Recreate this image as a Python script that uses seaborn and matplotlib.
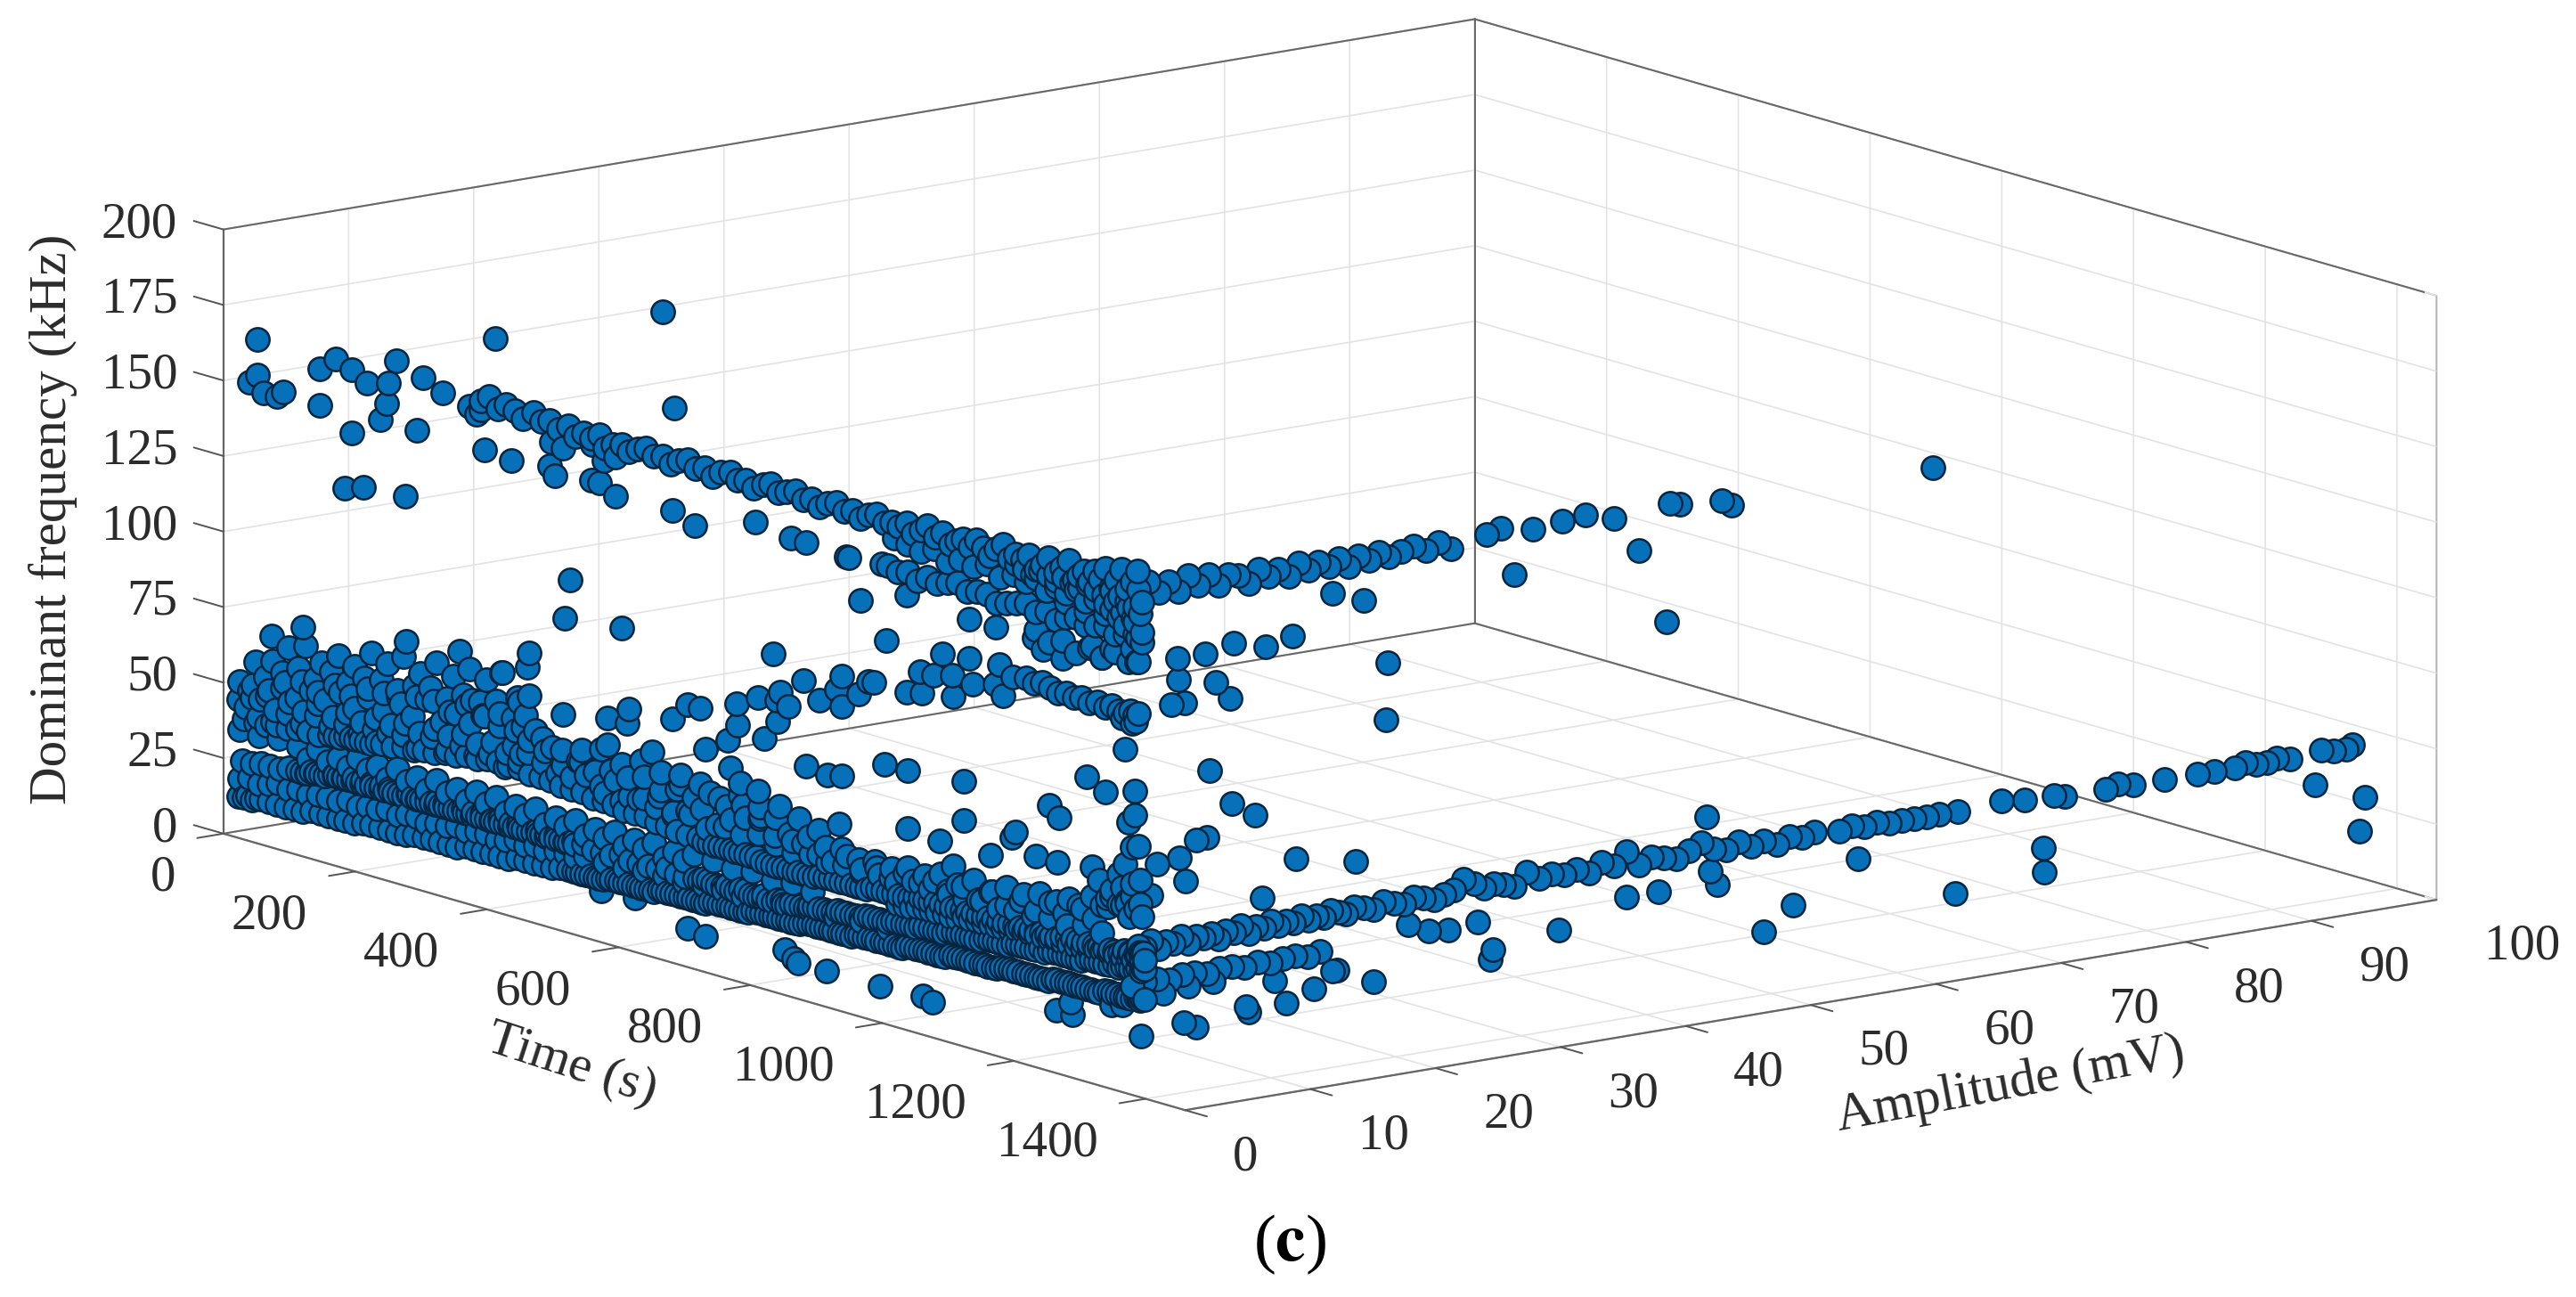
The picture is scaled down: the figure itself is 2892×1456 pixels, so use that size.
import numpy as np
import matplotlib
matplotlib.use("Agg")
import matplotlib.pyplot as plt
import seaborn as sns
from mpl_toolkits.mplot3d import proj3d

# Lower dense bands: time (s) and dominant frequency (kHz), amplitude about 1 mV
low1_t = [4,12,25,38,50,63,76,90,102,115,
          128,141,155,167,180,193,206,219,233,245,
          258,271,285,297,310,323,336,350,362,375,
          388,401,414,428,440,453,466,480,492,505,
          518,531,545,557,570,583,596,610,622,635,
          648,661,675,687,700,713,726,740,752,765,
          778,791,805,817,830,843,856,870,882,895,
          908,921,935,947,960,973,986,1000,1012,1025,
          1038,1051,1065,1077,1090,1103,1116,1130,1142,1155,
          1168,1181,1195,1207,1220,1233,1246,1260,1272,1285,
          1298,1311,1325,1337,1350,1360,1372,1380,1345,1330]
low1_f = [12,12,12,13,13,13,13,13,13,14,
          14,14,14,14,14,15,15,15,15,15,
          15,16,16,16,16,16,16,17,17,17,
          17,17,17,18,18,18,18,18,19,19,
          19,19,19,19,20,20,20,20,20,20,
          21,21,21,21,21,21,22,22,22,22,
          22,23,23,23,23,23,23,24,24,24,
          24,24,24,25,25,25,25,25,25,26,
          26,26,26,26,27,27,27,27,27,27,
          28,28,28,28,28,28,29,29,29,29,
          29,29,30,30,30,30,30,31,27,26]
low2_t = [6,20,35,50,64,80,95,110,125,140,
          155,170,186,200,215,230,246,260,275,290,
          305,320,336,350,365,380,396,410,425,440,
          455,470,486,500,515,530,560,590,620,650,
          680,710,740,770,800,830,870,910,950,990]
low2_f = [18,19,18,19,20,19,20,19,20,20,
          20,21,20,21,21,22,21,22,22,21,
          22,22,23,22,23,23,22,23,24,23,
          24,23,24,24,24,25,25,25,26,26,
          26,27,27,27,28,28,29,29,30,30]
low3_t = [10,24,38,52,66,80,94,108,122,136,
          150,164,178,192,206,220,234,248,262,276,
          290,304,318,332,346,360,374,388,402,416,
          430,444,458,472,486,500,514,528,542,556,
          570,584,598,612,626,640,654,668,682,696,
          710,724,738,752,766,780,794,808,822,836,
          850,864,878,892,906,920,934,948,962,976,
          990,1004,1018,1032,1046,1060,1074,1088,1102,1116,
          1130,1144,1158,1172,1186,1200,1214,1228,1242,1256,
          1270,1284,1298,1312,1326,1340,1352,1364,1374,1380]
low3_f = [24,24,25,25,25,26,26,26,27,27,
          28,28,29,29,28,29,28,28,29,28,
          28,29,28,28,28,29,28,28,28,29,
          28,28,28,29,28,28,28,29,28,28,
          28,29,28,28,28,28,29,28,28,28,
          29,28,28,28,29,28,28,28,29,28,
          29,29,30,30,30,31,31,31,32,32,
          32,33,33,33,34,34,34,35,35,35,
          35,36,36,36,37,37,37,37,38,38,
          38,38,39,39,39,39,40,40,40,41]
mid1_t = [30,46,62,78,94,110,126,142,158,174,
          190,206,222,238,254,270,286,302,318,334,
          350,366,382,398,414,430,446,462,478,494,
          510,526,542,558,574,590,606,622,638,654,
          670,686,702,718,734,750,766,782,798,814,
          830,846,862,878,894,910,926,942,958,974,
          990,1006,1022,1038,1054,1070,1086,1102,1118,1134,
          1150,1166,1182,1198,1214,1230,1246,1262,1278,1294,
          1310,1326,1342,1356,1368,1376]
mid1_f = [38,38,39,39,40,40,40,41,41,42,
          42,42,43,43,44,44,45,45,46,46,
          47,47,48,48,48,48,47,47,47,46,
          46,46,45,45,45,44,44,44,43,43,
          42,42,42,41,41,41,41,41,40,40,
          40,40,40,40,41,41,41,41,41,42,
          42,42,42,43,43,43,43,43,43,43,
          43,43,43,43,43,43,43,44,44,44,
          44,44,44,45,45,46]
mid2_t = [5,35,65,95,125,155,185,215,245,275,
          305,335,365,395,425,455,485,515,545,575,
          605,635,665,695,725,755,785,815,845,875]
mid2_f = [34,34,35,34,35,34,36,35,36,35,
          36,35,36,36,35,36,35,36,35,36,
          35,36,35,36,36,35,36,35,36,35]
top1_t = [4,26,48,70,92,114,136,158,180,202,
          224,246,268,290,312,334,356,378,400,422,
          444,466,488,510,532,554,576,598,620,642,
          664,686,708,730,752,774,796,818,840,862,
          884,906,928,950,972,994,1016,1038,1060,1082,
          1104,1126,1148,1170,1192,1214,1236,1258,1280,1302,
          1324,1340,1352,1366,1376,1330,1345,1360,1372,1350]
top1_f = [44,50,48,52,50,54,52,56,52,57,
          54,60,55,62,56,60,58,62,60,55,
          54,52,50,50,52,50,53,49,50,52,
          48,50,52,48,51,53,55,50,52,50,
          48,47,50,47,49,47,50,48,50,47,
          51,48,52,49,52,50,54,52,56,53,
          58,60,62,60,58,64,66,68,70,74]
top2_t = [5,30,55,80,105,130,155,180,205,230,
          255,280,305,330,355,380,405,430,455,480]
top2_f = [50,58,60,66,68,64,68,66,72,70,
          74,70,75,72,76,74,78,70,62,58]

# Same bands, more points where the reference goes dark
dark1_t = [107,121,135,149,163,177,191,205,219,233,
           247,261,275,289,303,317,331,345,359,373,
           387,401,415,429,443,457,471,485,499,513,
           703,717,731,745,759,773,787,801,815,829,
           843,857,871,885,899,913,927,941,955,969,
           983,997,1011,1025,1039,1053,1067,1081,1095,1109,
           1123,1137,1151,1165,1179,1193,1207,1221,1235,1249,
           1263,1277,1291,1305,1319,1333,1346,1358,1369,1377]
dark1_f = [26,27,27,28,28,28,28,29,28,29,
           28,29,28,29,28,29,28,29,28,29,
           28,29,28,29,28,29,28,29,28,29,
           28,29,28,29,28,29,28,29,28,29,
           29,29,30,30,30,31,31,31,32,32,
           32,33,33,33,34,34,34,35,35,35,
           35,36,36,36,37,37,37,38,38,38,
           38,38,39,39,39,40,40,40,41,41]
dark2_t = [710,726,742,758,774,790,806,822,838,854,
           870,886,902,918,934,950,966,982,998,1014,
           1030,1046,1062,1078,1094,1110,1126,1142,1158,1174,
           1190,1206,1222,1238,1254,1270,1286,1302,1318,1334,
           1348,1358,1366,1372,1378,150,166,182,198,214]
dark2_f = [41,41,41,41,41,41,40,40,40,40,
           40,41,41,41,41,41,42,42,42,42,
           43,43,43,43,43,43,43,43,43,43,
           43,43,43,43,44,44,44,44,44,44,
           45,45,45,46,46,41,42,42,42,43]
dark3_t = [512,525,538,551,564,577,590,603,616,629,
           642,655,668,681,694,707,720,733,746,759,
           772,785,798,811,824,837,850,863,876,889,
           902,915,928,941,954,967,980,993,1006,1019,
           1032,1045,1058,1071,1084,1097,1110,1123,1136,1149,
           1162,1175,1188,1201,1214,1227,1240,1253,1266,1279,
           1292,1305,1318,1331,1344,1354,1366,1376,18,31]
dark3_f = [19,19,19,19,20,20,20,20,20,20,
           21,21,21,21,21,21,22,22,22,22,
           22,23,23,23,23,23,23,24,24,24,
           24,24,24,25,25,25,25,25,25,26,
           26,26,26,26,27,27,27,27,27,27,
           28,28,28,28,28,28,29,29,29,29,
           29,29,30,30,30,30,31,31,13,13]
dark4_t = [100,114,128,142,156,170,184,198,212,226,
           240,254,268,282,296,310,324,338,352,366,
           380,394,408,422,436,450,464,478,492,506]
dark4_f = [26,27,27,28,28,28,28,28,28,28,
           28,28,28,28,28,28,28,28,28,28,
           28,28,28,28,28,28,28,28,28,28]
dark5_t = [1005,1015,1025,1035,1045,1055,1065,1075,1085,1095,
           1105,1115,1125,1135,1145,1155,1165,1175,1185,1195,
           1205,1215,1225,1235,1245,1255,1265,1275,1285,1295,
           1305,1315,1325,1335,1345,1355,1362,1368,1374,1380]
dark5_f = [39,39,39,40,40,40,40,40,40,40,
           41,41,41,41,41,41,41,41,42,42,
           42,42,42,42,42,42,42,42,42,42,
           43,43,43,43,43,43,43,44,44,44]
dark6_t = [1185,1197,1209,1221,1233,1245,1257,1269,1281,1293,
           1305,1317,1329,1341,1353,1365,1375,1260,1290,1320]
dark6_f = [163,162,161,163,162,161,163,162,161,163,
           162,161,163,162,161,160,162,155,154,155]
fill1_t = [15,37,59,81,103,125,147,169,191,213,
           235,257,279,301,323,345,367,389,411,433]
fill1_f = [42,46,44,48,46,50,47,50,48,51,
           50,52,50,53,52,54,52,54,52,53]
fill2_t = [20,45,70,95,120,145,170,195,220,245,
           270,295,320,345,370,395,420,445,470,495]
fill2_f = [48,54,57,60,58,62,60,63,64,62,
           65,66,64,67,66,68,64,58,56,54]
fill3_t = [520,545,570,595,620,645,670,695,720,745,
           770,795,820,845,870,895,920,945,970,995,
           1020,1045,1070,1095,1120,1145,1170,1195,1220,1245,
           1265,1285,1300,1315,1330,1345,1360,1372,1310,1340]
fill3_f = [56,54,56,55,57,54,56,55,58,55,
           57,54,56,50,53,51,52,50,51,50,
           52,51,53,51,54,52,55,54,56,55,
           57,55,60,58,62,60,64,62,66,70]
fill4_t = [435,465,495,525,555,585,615,645,675,705,
           735,765,795,825,855,885]
fill4_f = [62,60,58,60,62,59,62,60,58,60,
           57,60,58,60,58,56]
fill5_t = [560,586,612,638,664,690,716,742,768,794,
           820,846,872,898,924,950,976,1002,1028,1054,
           1080,1106,1132,1158,1184,1210,1236,1262,1288,1314]
fill5_f = [48,47,49,48,47,49,46,48,47,49,
           47,46,47,46,47,46,47,46,48,47,
           48,47,48,47,48,48,49,48,50,49]
fill6_t = [12,34,56,78,100,122,144,166,188,210,
           232,254,276,298,320,342,364,386,408,430]
fill6_f = [38,40,40,44,42,46,44,46,44,47,
           47,48,45,50,47,50,48,50,47,50]
fill7_t = [25,50,75,100,125,150,175,200,225,250,
           275,300,325,350,375,400,425]
fill7_f = [46,50,54,56,54,58,56,60,60,58,
           62,62,60,64,62,64,60]
fill8_t = [110,140,170,200,230,260,290,320,350,380,
           410,440,470,500,530,560,590,620,650,680]
fill8_f = [31,32,32,33,32,33,32,33,32,33,
           32,33,32,33,32,33,32,33,32,33]

# Upper bands
high1_t = [372,384,398,410,424,436,452,464,476,490,
           505,515,528,540,552,560,572,586,596,610,
           622,634,648,660,672,686,698,712,724,736,
           750,762,774,786,800,812,824,836,850,862,
           874,886,898,912,924,936,948,960,972,984,
           996,1006,1018,1028,1040,1050,1062,1072,1084,1094,
           1104,1114,1124,1134,1144,1154,1164,1174,1184,1194,
           1204,1214,1224,1234,1244,1254,1264,1272,1280,1288,
           1296,1304,1312,1320,1328,1336,1344,1352,1360,1368]
high1_f = [166,168,165,167,166,164,167,165,166,164,
           166,163,165,164,166,162,164,165,163,165,
           166,164,165,163,165,166,164,165,163,165,
           166,164,165,163,165,166,164,165,166,164,
           165,163,165,166,164,165,163,165,166,164,
           165,164,166,163,165,167,164,166,163,165,
           166,164,167,165,163,166,168,164,166,165,
           167,163,165,168,164,166,169,163,165,167,
           164,168,166,170,164,167,171,165,168,172]
high2_t = [1000,1020,1040,1060,1080,1100,1120,1140,1160,1180,
           1200,1215,1230,1245,1260,1275,1290,1305,1320,1335,
           1345,1355,1365,1372,1350,1362,1340,1330,1375,1368]
high2_f = [160,159,158,160,157,159,158,160,157,159,
           158,160,157,159,158,160,157,159,158,160,
           157,159,155,158,153,156,155,157,152,150]
high3_t = [990,1005,1020,1035,1050,1065,1080,1095,1110,1125,
           1140,1155,1170,1185,1200,1215,1230,1245,1260,1275,
           1290,1305,1320,1335,1350,1365,1375,1300,1330,1360]
high3_f = [150,149,150,148,150,149,150,151,149,150,
           150,148,149,150,151,149,150,148,150,151,
           149,150,151,149,150,151,149,143,144,146]
high4_t = [1215,1235,1255,1275,1295,1315,1335,1355,1370,1225]
high4_f = [143,140,142,139,142,140,143,141,142,137]
high5_t = [1200,1212,1224,1236,1248,1260,1272,1284,1296,1308,
           1320,1330,1340,1350,1358,1364,1370,1366,1360,1345]
high5_f = [126,125,126,125,124,125,124,125,124,125,
           124,125,124,124,125,124,125,122,121,122]

# Loose points at low amplitude
loose_t = [32,20,32,42,62,72,152,127,176,199,
           232,243,284,314,229,219,127,176,274,165,
           193,257,393,666,377,418,476,484,539,552,
           576,663,696,788,843,866,927,980,507,499,
           586,948,930,1018,987,815,1113,1153,1350,1073,
           1113,1039,1059,1087,1118,1159,1179,1152,1165,1019,
           1041,1089,793,821,827,861,886,920,968,946,
           920,911,960,822,802,838,663,596,686,705,
           760,713,747,762,750,766,793,632,675,564,
           524,496,594,564,496,439,403,445,442,427,
           358,445,258,101,54,339,1105,985,1020,866,
           898,920,1292,1320,1365,1235,1250,1365,1355,1105,
           1020,1068,1183,1178,1145,1088,1215,1247,916,846,
           833,896,978,1043,1058,1270,1245,1267,686,713,
           853,554,606,479,497,541,559,576,1212,1255,
           1315,1367,1300,1360,1357,1323,1353,372,355,365]
loose_f = [165,150,153,148,148,150,166,161,164,161,
           163,171,168,165,156,150,149,143,150,124,
           126,127,188,182,150,149,151,148,150,150,
           147,148,145,152,150,150,149,150,115,102,
           104,136,149,142,125,110,140,140,112,126,
           127,118,118,120,119,128,125,121,118,110,
           111,113,94,95,98,104,99,109,110,105,
           99,104,110,88,81,94,79,78,85,85,
           90,72,77,83,68,64,63,66,61,64,
           56,53,73,73,70,66,78,87,82,71,
           66,73,79,74,68,81,86,84,84,76,
           75,76,99,96,99,86,83,91,88,73,
           65,64,74,72,64,57,68,68,60,11,
           13,10,10,11,10,19,19,23,11,10,
           10,15,16,159,158,162,158,160,140,136,
           140,142,70,80,57,61,61,163,163,161]
low_amp = 1

# Points at the end of the test, where amplitude grows: amplitude (mV), frequency (kHz)
end_time = 1370
arm1_a = [1.0,1.5,2.0,2.6,3.2,3.8,4.4,5,5.6,6.2,
          6.8,7.4,8,8.6,9.2,9.8,10.4,11,11.6,12.2,
          12.8,13.4,14,14.6,15.2,15.8,16.4,17,17.6,18.2,
          19,19.8,20.6,21.4,22.2,23,23.8,24.6,25.4,26.2,
          27,27.8,28.6,29.4,30.2,31,32,33,34,35,
          36,37,38,39,40,41,42,43,44,45,
          46,47,48,49,50,51,52,53,54,55,
          57,58,59,60,61,62,63,64,65,66.5,
          70,71.8,74.2,75,78.3,79.3,80.5,83,85.6,87,
          88.6,89.5,90.3,91.2,92,93,95.5,96.5,97.5,98]
arm1_f = [48,47,49,46,48,47,49,46,48,47,
          48,46,48,47,49,46,48,47,49,47,
          48,47,49,47,48,47,49,48,47,49,
          48,47,49,48,47,49,48,47,48,49,
          52,50,48,49,48,47,51,48,49,48,
          49,47,50,48,52,47,49,48,47,49,
          51,48,47,49,47,48,46,48,47,48,
          47,48,47,48,47,47,47,47,47,47,
          48,47,47,46,46,47,46,46,46,46,
          46,47,46,46,47,46,47,46,46,47]
arm2_a = [0.5,1.5,2.5,3.5,4.5,5.5,6.5,7.5,8.5,9.5,
          10.5,11.5,12.5,13.5,14.5,15.5,1,3,5,7]
arm2_f = [35,36,36,35,36,36,35,36,36,35,
          36,35,36,36,35,36,31,31,32,32]
arm3_a = [1,1.8,2.6,3.4,4.2,5,5.8,6.6,7.4,8.2,
          9,9.8,10.6,11.4,12.2,13,13.8,14.6,15.4,16.2,
          17,17.8,18.6,19.4,20.2,21,22,23,24,25,
          26,28.8,30,32.5,34.9,36.7,39,43.5,44.3,47.6,
          48.4]
arm3_f = [166,168,164,167,163,168,164,167,163,166,
          165,162,166,163,165,162,166,163,165,163,
          165,162,165,163,165,163,164,165,163,165,
          162,165,166,164,165,166,163,165,164,163,
          161]
arm4_a = [4.2,3.6,4.7,4.1,6.3,8.6,11.2,13.3,7.2,8.3,
          20.9,20.8,31,41,43.2,19,16.5,46.4,18.4,58.5,
          40,42.6,47.3,46.7,53.3,51,34.6,29.3,29.1,28.1,
          25.8,24.2,22.6,66.3,73.3,73.4,95,99,98.6,19.8,
          16.9,6.7,8.5,10.3,1,2.5,4.3,4.8,5.6,6.5,
          13.6,10.9,4.6,5.6,9.6,9.8,12.8,15,11.9,16.5,
          1.2,2,64.5]
arm4_f = [134,126,126,141,141,143,140,142,131,125,
          128,109,150,151,126,150,154,59,64,37,
          37,37,36,41,25,18,30,27,24,37,
          36,37,40,20,30,22,36,29,18,23,
          29,102,90,85,81,74,75,67,80,80,
          68,57,20,18,22,20,21,24,29,29,
          18,64,162]
# single point high in the chart
far_t = [97]
far_a = [30]
far_f = [158]

time_ticks = list(range(0, 1401, 200))
amp_ticks = list(range(0, 101, 10))
freq_ticks = list(range(0, 201, 25))
time_max, amp_max, freq_max = 1460, 100, 200

sns.set_theme(style="ticks")
plt.rcParams['font.family'] = ['Liberation Serif', 'DejaVu Serif']
plt.rcParams['mathtext.fontset'] = 'stix'

low_t = (low1_t + low2_t + low3_t + mid1_t + mid2_t + top1_t + top2_t
         + dark1_t + dark2_t + dark3_t + dark4_t + dark5_t + dark6_t
         + fill1_t + fill2_t + fill3_t + fill4_t + fill5_t + fill6_t + fill7_t + fill8_t
         + high1_t + high2_t + high3_t + high4_t + high5_t + loose_t)
low_f = (low1_f + low2_f + low3_f + mid1_f + mid2_f + top1_f + top2_f
         + dark1_f + dark2_f + dark3_f + dark4_f + dark5_f + dark6_f
         + fill1_f + fill2_f + fill3_f + fill4_f + fill5_f + fill6_f + fill7_f + fill8_f
         + high1_f + high2_f + high3_f + high4_f + high5_f + loose_f)
arm_a = arm1_a + arm2_a + arm3_a + arm4_a
arm_f = arm1_f + arm2_f + arm3_f + arm4_f

times = np.concatenate([low_t, np.full(len(arm_a), end_time), far_t])
amps = np.concatenate([np.full(len(low_t), low_amp), arm_a, far_a])
freqs = np.concatenate([low_f, arm_f, far_f])

W, H = 2892, 1456
fig = plt.figure(figsize=(W / 200, H / 200), dpi=200, facecolor='white')
# the 3d box is square inside this rect, so it is bigger than the figure
ax = fig.add_axes([196 / W, -475 / H, 2526 / W, 2526 / H], projection='3d', proj_type='ortho')
ax.patch.set_alpha(0)
ax.computed_zorder = False
ax.view_init(elev=12.7, azim=-37.4)
ax.set_box_aspect((964, 959, 377))
ax.set_xlim(0, time_max)
ax.set_ylim(0, amp_max)
ax.set_zlim(0, freq_max)

# box edges go over the grid lines
edge = dict(color='#666666', lw=0.7, zorder=1)
ax.plot([0, 0], [0, amp_max], [freq_max, freq_max], **edge)
ax.plot([0, time_max], [amp_max, amp_max], [freq_max, freq_max], **edge)
ax.plot([0, 0], [0, 0], [0, freq_max], **edge)
ax.plot([0, 0], [amp_max, amp_max], [0, freq_max], **edge)
ax.plot([time_max, time_max], [amp_max, amp_max], [0, freq_max], **edge)
ax.plot([0, 0], [0, amp_max], [0, 0], **edge)
ax.plot([0, time_max], [amp_max, amp_max], [0, 0], **edge)

# tick stubs, pointing out of the box along the other floor axis
stub = dict(color='#555555', lw=0.7, zorder=1)
for t in time_ticks:
    ax.plot([t, t], [0, -2.1], [0, 0], **stub)
for a in amp_ticks:
    ax.plot([time_max, time_max + 33], [a, a], [0, 0], **stub)
for f in freq_ticks:
    ax.plot([0, -45], [0, 0], [f, f], **stub)

ax.scatter(times, amps, freqs, s=90, c='#0670b8', edgecolors='#08253f',
           linewidths=0.9, depthshade=False, alpha=1, zorder=2)

ax.set_xticks(time_ticks)
ax.set_yticks(amp_ticks)
ax.set_zticks(freq_ticks)
ax.set_xticklabels([])
ax.set_yticklabels([])
ax.set_zticklabels([])
ax.zaxis.set_ticks_position('lower')

for axis in (ax.xaxis, ax.yaxis, ax.zaxis):
    axis.pane.set_facecolor('white')
    axis.pane.set_edgecolor('#666666')
    axis.pane.set_linewidth(0.7)
    axis.line.set_color('#666666')
    axis.line.set_linewidth(0.8)
    axis._axinfo['grid'].update(color='#e3e3e3', linewidth=0.6)
    axis._axinfo['tick'].update(inward_factor=0, outward_factor=0)


# tick labels sit at a fixed offset from the projected tick, like the original
def tick_label(x, y, z, text, dx, dy, ha):
    px, py, _ = proj3d.proj_transform(x, y, z, ax.get_proj())
    ax.annotate(text, xy=(px, py), xycoords='data', xytext=(dx, dy), textcoords='offset points',
                ha=ha, va='center', fontsize=20.5, color='#2b2b2b', annotation_clip=False, zorder=3)


for t in time_ticks:
    tick_label(t, 0, 0, str(t), -19.3, -18, 'right')
for a in amp_ticks:
    tick_label(time_max, a, 0, str(a), 19.3, -19, 'left')
for f in freq_ticks:
    tick_label(0, 0, f, str(f), -18.6, 2, 'right')

fig.text(32 / 1568, 1 - 316 / 789, 'Dominant frequency (kHz)', rotation=90, ha='center', va='center',
         fontsize=21.3, color='#2b2b2b')
fig.text(348 / 1568, 1 - 648 / 789, 'Time (s)', rotation=-18, ha='center', va='center',
         fontsize=21, color='#2b2b2b')
fig.text(1224 / 1568, 1 - 660 / 789, 'Amplitude (mV)', rotation=10.7, ha='center', va='center',
         fontsize=21.4, color='#2b2b2b')
fig.text(785 / 1568, 1 - 757 / 789, r'($\mathbf{c}$)', ha='center', va='center', fontsize=27, color='black')

fig.savefig('out.png', dpi=200, facecolor='white')
